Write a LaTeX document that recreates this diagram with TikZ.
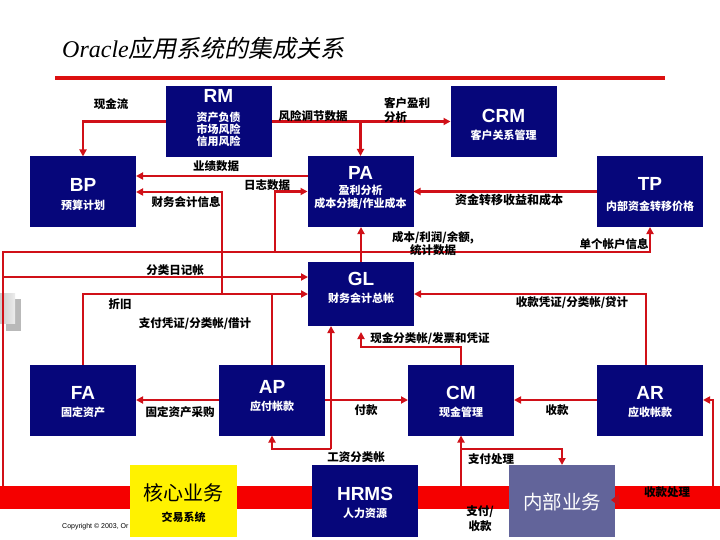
\documentclass[tikz,border=0pt]{standalone}
\usepackage{fontspec}
\setmainfont{Liberation Sans}
\newfontfamily\cjk{Noto Sans CJK SC}
\newfontfamily\cjkslant[FakeSlant=0.2]{Noto Sans CJK SC}
\newfontfamily\titleserif{Liberation Serif}
\usetikzlibrary{arrows.meta,calc}
\definecolor{navy}{RGB}{6,6,122}
\definecolor{lred}{RGB}{208,16,24}
\definecolor{bred}{RGB}{245,0,0}
\definecolor{tred}{RGB}{220,16,16}
\definecolor{slate}{RGB}{98,100,154}
\begin{document}
\begin{tikzpicture}[x=1pt,y=-1pt,
  box/.style={fill=navy,minimum width=106pt,minimum height=71pt,inner sep=0pt,outer sep=0pt},
  hd/.style={text=white,inner sep=0pt,font=\fontsize{19}{19}\selectfont\bfseries},
  sb/.style={text=white,inner sep=0pt,align=center,font=\cjk\bfseries\fontsize{11}{12.5}\selectfont},
  lb/.style={text=black,inner sep=0pt,font=\cjk\bfseries\fontsize{11.5}{13}\selectfont},
  wire/.style={draw=lred,line width=2.2pt},
  conn/.style={wire,-{Triangle[length=7pt,width=7pt]}},
]
\useasboundingbox (0,0) rectangle (720,540);
\fill[white] (0,0) rectangle (720,540);

% title
\node[anchor=base west,inner sep=0pt] (title) at (62,58) {\titleserif\itshape\fontsize{24}{24}\selectfont Oracle\cjkslant\fontsize{24}{24}\selectfont 应用系统的集成关系};
\coordinate (ulA) at (55,78);
\coordinate (ulB) at (665,78);
\draw[draw=tred,line width=4pt] (ulA) -- (ulB);

% red band
\fill[bred] (0,486) rectangle (720,509);

% grey decoration
\fill[gray!55] (6,299) rectangle (21,331);
\shade[left color=gray!40,right color=gray!15] (0,293) rectangle (15,323);

% boxes
\node[box] (RM) at (218.5,121.5) {};
\node[box] (CRM) at (503.5,121.5) {};
\node[box] (BP) at (83,192) {};
\node[box] (PA) at (360.5,191.5) {};
\node[box] (TP) at (650,191.5) {};
\node[box,minimum height=64pt] (GL) at (361,294) {};
\node[box] (FA) at (83,400) {};
\node[box] (AP) at (272,400) {};
\node[box] (CM) at (461,400) {};
\node[box] (AR) at (650,400) {};
\node[box,minimum height=72pt] (HR) at (365,501) {};
\node[box,fill=yellow,minimum width=107pt,minimum height=72pt] (CORE) at (183.5,501) {};
\node[box,fill=slate,minimum height=72pt] (INNER) at (562,501) {};

% coordinates for connector junctions
\coordinate (trunkB) at (3,486);
\coordinate (trunkT) at (3,252);
\coordinate (jLog) at (275,252);
\coordinate (jJour) at (3,277);
\coordinate (jFin) at (222,293);
\coordinate (jWage) at (331,449);
\coordinate (jPay) at (461,449);
\coordinate (jCash) at (361,347);
\coordinate (payB) at (461,486);
\coordinate (recB) at (713,486);
\coordinate (pa176) at ([yshift=15.5pt]PA.west);
\coordinate (arTop) at ([xshift=-4pt]AR.north);

% connectors
\draw[conn] (RM.west) -| (BP.north);
\draw[conn] (RM.east) -- (CRM.west);
\draw[conn] (PA.north |- RM.east) -- (PA.north);
\draw[conn] (pa176) -- (pa176 -| BP.east);
\draw[conn] (jLog) |- (PA.west);
\draw[conn] (jFin) |- (BP.east);
\draw[conn] (trunkB) -- (trunkT) -| (TP.south);
\draw[conn] (jJour) -- (jJour -| GL.west);
\draw[conn] (GL.north) -- (GL.north |- PA.south);
\draw[conn] (TP.west) -- (PA.east);
\draw[conn] (FA.north) |- (GL.west);
\draw[wire] (AP.north) -- (AP.north |- GL.west);
\draw[conn] (arTop) |- (GL.east);
\draw[conn,shorten >=6pt] (CM.north) |- (jCash) -- (jCash |- GL.south);
\draw[conn] (jWage) -- (jWage |- GL.south);
\draw[conn] (jWage) -| (AP.south);
\draw[conn] (AP.east) -- (CM.west);
\draw[conn] (AP.west) -- (FA.east);
\draw[conn] (AR.west) -- (CM.east);
\draw[conn] (payB) -- (CM.south);
\draw[conn] (jPay) -| (INNER.north);
\draw[conn] (recB) |- (AR.east);
\fill[lred] (611,500) -- (619,494) -- (619,506) -- cycle;

% box texts
\node[hd] (RMh) at (218.5,96) {RM};
\node[sb,font=\cjk\bfseries\fontsize{11}{12}\selectfont] (RMs) at (218.5,129) {资产负债\\市场风险\\信用风险};
\node[hd] (CRMh) at (503.5,116) {CRM};
\node[sb] (CRMs) at (503.5,135) {客户关系管理};
\node[hd] (BPh) at (83,185) {BP};
\node[sb] (BPs) at (83,205) {预算计划};
\node[hd] (PAh) at (360.5,173) {PA};
\node[sb,font=\cjk\bfseries\fontsize{11}{13}\selectfont] (PAs) at (360.5,197.5) {盈利分析\\成本分摊/作业成本};
\node[hd] (TPh) at (650,184) {TP};
\node[sb] (TPs) at (650,206) {内部资金转移价格};
\node[hd] (GLh) at (361,279) {GL};
\node[sb] (GLs) at (361,298) {财务会计总帐};
\node[hd] (FAh) at (83,393) {FA};
\node[sb] (FAs) at (83,412) {固定资产};
\node[hd] (APh) at (272,387) {AP};
\node[sb] (APs) at (272,406) {应付帐款};
\node[hd] (CMh) at (461,393) {CM};
\node[sb] (CMs) at (461,412) {现金管理};
\node[hd] (ARh) at (650,393) {AR};
\node[sb] (ARs) at (650,412) {应收帐款};
\node[hd] (HRh) at (365,494) {HRMS};
\node[sb] (HRs) at (365,513) {人力资源};
\node[inner sep=0pt,text=black,font=\cjk\fontsize{20}{20}\selectfont] (COREh) at (183.5,493) {核心业务};
\node[inner sep=0pt,text=black,font=\cjk\bfseries\fontsize{11}{12}\selectfont] (COREs) at (183.5,517) {交易系统};
\node[inner sep=0pt,text=white,font=\cjk\fontsize{19.5}{20}\selectfont] (INNERh) at (562,502) {内部业务};

% connector labels
\node[lb] (l1) at (111,104) {现金流};
\node[lb] (l2) at (313,116) {风险调节数据};
\node[lb,anchor=west,align=left,font=\cjk\bfseries\fontsize{11.5}{14}\selectfont] (l3) at (384,110) {客户盈利\\分析};
\node[lb] (l4) at (216,166) {业绩数据};
\node[lb] (l5) at (267,185) {日志数据};
\node[lb] (l6) at (186,202) {财务会计信息};
\node[lb,font=\cjk\bfseries\fontsize{12}{13}\selectfont] (l7) at (509,200) {资金转移收益和成本};
\node[lb,align=center] (l8) at (433,243.5) {成本/利润/余额,\\统计数据};
\node[lb] (l9) at (614,244) {单个帐户信息};
\node[lb] (l10) at (175,270) {分类日记帐};
\node[lb] (l11) at (120,304) {折旧};
\node[lb] (l12) at (195,324) {支付凭证/分类帐/借计};
\node[lb] (l13) at (572,303) {收款凭证/分类帐/贷计};
\node[lb] (l14) at (430,339) {现金分类帐/发票和凭证};
\node[lb] (l15) at (180,412) {固定资产采购};
\node[lb] (l16) at (366,410) {付款};
\node[lb] (l17) at (557,410) {收款};
\node[lb] (l18) at (356,457) {工资分类帐};
\node[lb] (l19) at (491,459) {支付处理};
\node[lb,align=center,font=\cjk\bfseries\fontsize{11.5}{15}\selectfont] (l20) at (480,518.5) {支付/\\收款};
\node[lb] (l21) at (667,492) {收款处理};
\node[anchor=west,inner sep=0pt,font=\fontsize{7}{8}\selectfont] (copy) at (62,527) {Copyright © 2003, Or};
\end{tikzpicture}
\end{document}
